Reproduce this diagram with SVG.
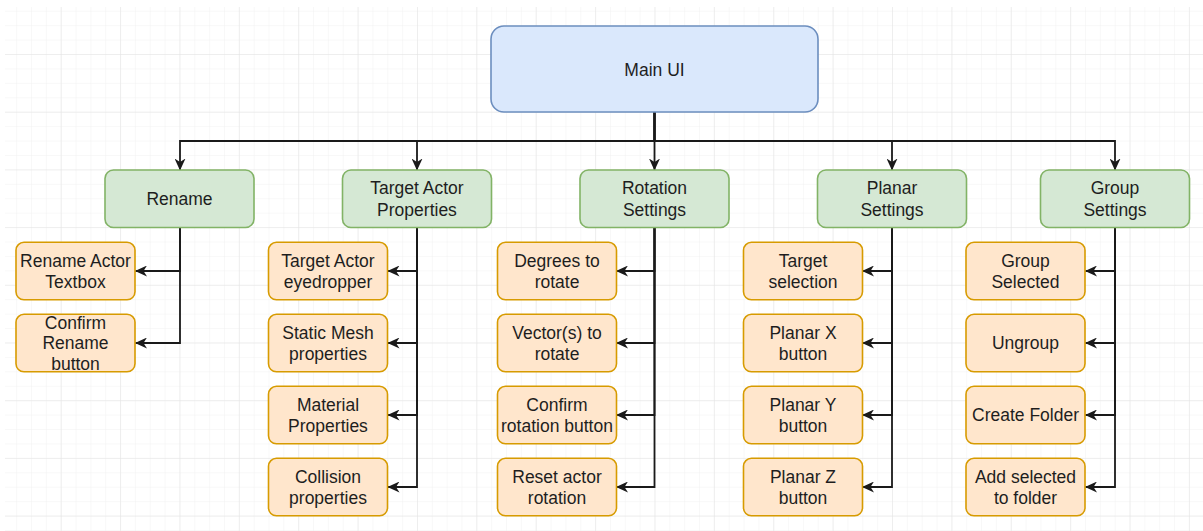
<svg xmlns="http://www.w3.org/2000/svg" width="1203" height="531" viewBox="0 0 1203 531">
<defs>
<pattern id="minor" patternUnits="userSpaceOnUse" x="1.3" y="-3.7" width="14.845" height="14.425">
<path d="M0,0 V14.425 M0,0 H14.845" fill="none" stroke="#f1f1f1" stroke-width="1"/>
</pattern>
<pattern id="major" patternUnits="userSpaceOnUse" x="1.3" y="-3.7" width="59.38" height="57.7">
<path d="M0,0 V57.7 M0,0 H59.38" fill="none" stroke="#e3e3e3" stroke-width="1"/>
</pattern>
<marker id="arr" markerUnits="userSpaceOnUse" viewBox="0 0 12 11" refX="11.5" refY="5.5" markerWidth="12" markerHeight="11" orient="auto">
<path d="M0,0 L12,5.5 L0,11 L3.5,5.5 Z" fill="#1a1a1a"/>
</marker>
<style>
.main{fill:#dae8fc;stroke:#6c8ebf;stroke-width:1.6}
.cat{fill:#d5e8d4;stroke:#82b366;stroke-width:1.6}
.leaf{fill:#ffe6cc;stroke:#d79b00;stroke-width:1.6}
text{font-family:"Liberation Sans",Arial,Helvetica,sans-serif;font-size:17.5px;fill:#1e1e1e;text-anchor:middle}
.edge{fill:none;stroke:#1a1a1a;stroke-width:1.8;marker-end:url(#arr)}
</style>
</defs>
<rect x="0" y="0" width="1203" height="531" fill="#ffffff"/>
<rect x="5" y="7" width="1198" height="524" fill="url(#minor)"/>
<rect x="5" y="7" width="1198" height="524" fill="url(#major)"/>

<g id="connectors">
<path class="edge" d="M654.5,112 V141 H180 V170"/>
<path class="edge" d="M654.5,112 V141 H417 V170"/>
<path class="edge" d="M654.5,112 V170"/>
<path class="edge" d="M654.5,112 V141 H892 V170"/>
<path class="edge" d="M654.5,112 V141 H1115 V170"/>

<path class="edge" d="M180,228 V271 H135.5"/>
<path class="edge" d="M180,228 V343 H135.5"/>

<path class="edge" d="M417,228 V271 H388"/>
<path class="edge" d="M417,228 V343 H388"/>
<path class="edge" d="M417,228 V415 H388"/>
<path class="edge" d="M417,228 V487 H388"/>

<path class="edge" d="M654.5,228 V271 H616.5"/>
<path class="edge" d="M654.5,228 V343 H616.5"/>
<path class="edge" d="M654.5,228 V415 H616.5"/>
<path class="edge" d="M654.5,228 V487 H616.5"/>

<path class="edge" d="M892,228 V271 H862.5"/>
<path class="edge" d="M892,228 V343 H862.5"/>
<path class="edge" d="M892,228 V415 H862.5"/>
<path class="edge" d="M892,228 V487 H862.5"/>

<path class="edge" d="M1115,228 V271 H1085.5"/>
<path class="edge" d="M1115,228 V343 H1085.5"/>
<path class="edge" d="M1115,228 V415 H1085.5"/>
<path class="edge" d="M1115,228 V487 H1085.5"/>
</g>

<g id="main-ui"><rect class="main" x="491" y="26" width="327" height="86" rx="13"/><text x="654.5" y="75.5">Main UI</text></g>

<g id="rename"><rect class="cat" x="105" y="170" width="149" height="57.5" rx="8.5"/><text x="179.5" y="205">Rename</text></g>
<g id="target-actor-properties"><rect class="cat" x="342.5" y="170" width="149" height="57.5" rx="8.5"/><text x="417" y="194.2">Target Actor</text><text x="417" y="216.2">Properties</text></g>
<g id="rotation-settings"><rect class="cat" x="580" y="170" width="149" height="57.5" rx="8.5"/><text x="654.5" y="194.2">Rotation</text><text x="654.5" y="216.2">Settings</text></g>
<g id="planar-settings"><rect class="cat" x="817.5" y="170" width="149" height="57.5" rx="8.5"/><text x="892" y="194.2">Planar</text><text x="892" y="216.2">Settings</text></g>
<g id="group-settings"><rect class="cat" x="1040.5" y="170" width="149" height="57.5" rx="8.5"/><text x="1115" y="194.2">Group</text><text x="1115" y="216.2">Settings</text></g>

<g id="rename-actor-textbox"><rect class="leaf" x="16" y="242.3" width="119" height="57.5" rx="8"/><text x="75.5" y="266.9">Rename Actor</text><text x="75.5" y="287.9">Textbox</text></g>
<g id="confirm-rename-button"><rect class="leaf" x="16" y="314.3" width="119" height="57.5" rx="8"/><text x="75.5" y="328.5">Confirm</text><text x="75.5" y="349.2">Rename</text><text x="75.5" y="370.2">button</text></g>

<g id="target-actor-eyedropper"><rect class="leaf" x="268.5" y="242.3" width="119" height="57.5" rx="8"/><text x="328" y="266.9">Target Actor</text><text x="328" y="287.9">eyedropper</text></g>
<g id="static-mesh-properties"><rect class="leaf" x="268.5" y="314.3" width="119" height="57.5" rx="8"/><text x="328" y="338.9">Static Mesh</text><text x="328" y="359.9">properties</text></g>
<g id="material-properties"><rect class="leaf" x="268.5" y="386.3" width="119" height="57.5" rx="8"/><text x="328" y="410.9">Material</text><text x="328" y="431.9">Properties</text></g>
<g id="collision-properties"><rect class="leaf" x="268.5" y="458.3" width="119" height="57.5" rx="8"/><text x="328" y="482.9">Collision</text><text x="328" y="503.9">properties</text></g>

<g id="degrees-to-rotate"><rect class="leaf" x="497.5" y="242.3" width="119" height="57.5" rx="8"/><text x="557" y="266.9">Degrees to</text><text x="557" y="287.9">rotate</text></g>
<g id="vectors-to-rotate"><rect class="leaf" x="497.5" y="314.3" width="119" height="57.5" rx="8"/><text x="557" y="338.9">Vector(s) to</text><text x="557" y="359.9">rotate</text></g>
<g id="confirm-rotation-button"><rect class="leaf" x="497.5" y="386.3" width="119" height="57.5" rx="8"/><text x="557" y="410.9">Confirm</text><text x="557" y="431.9">rotation button</text></g>
<g id="reset-actor-rotation"><rect class="leaf" x="497.5" y="458.3" width="119" height="57.5" rx="8"/><text x="557" y="482.9">Reset actor</text><text x="557" y="503.9">rotation</text></g>

<g id="target-selection"><rect class="leaf" x="743.5" y="242.3" width="119" height="57.5" rx="8"/><text x="803" y="266.9">Target</text><text x="803" y="287.9">selection</text></g>
<g id="planar-x-button"><rect class="leaf" x="743.5" y="314.3" width="119" height="57.5" rx="8"/><text x="803" y="338.9">Planar X</text><text x="803" y="359.9">button</text></g>
<g id="planar-y-button"><rect class="leaf" x="743.5" y="386.3" width="119" height="57.5" rx="8"/><text x="803" y="410.9">Planar Y</text><text x="803" y="431.9">button</text></g>
<g id="planar-z-button"><rect class="leaf" x="743.5" y="458.3" width="119" height="57.5" rx="8"/><text x="803" y="482.9">Planar Z</text><text x="803" y="503.9">button</text></g>

<g id="group-selected"><rect class="leaf" x="966" y="242.3" width="119" height="57.5" rx="8"/><text x="1025.5" y="266.9">Group</text><text x="1025.5" y="287.9">Selected</text></g>
<g id="ungroup"><rect class="leaf" x="966" y="314.3" width="119" height="57.5" rx="8"/><text x="1025.5" y="349.3">Ungroup</text></g>
<g id="create-folder"><rect class="leaf" x="966" y="386.3" width="119" height="57.5" rx="8"/><text x="1025.5" y="421.3">Create Folder</text></g>
<g id="add-selected-to-folder"><rect class="leaf" x="966" y="458.3" width="119" height="57.5" rx="8"/><text x="1025.5" y="482.9">Add selected</text><text x="1025.5" y="503.9">to folder</text></g>
</svg>
